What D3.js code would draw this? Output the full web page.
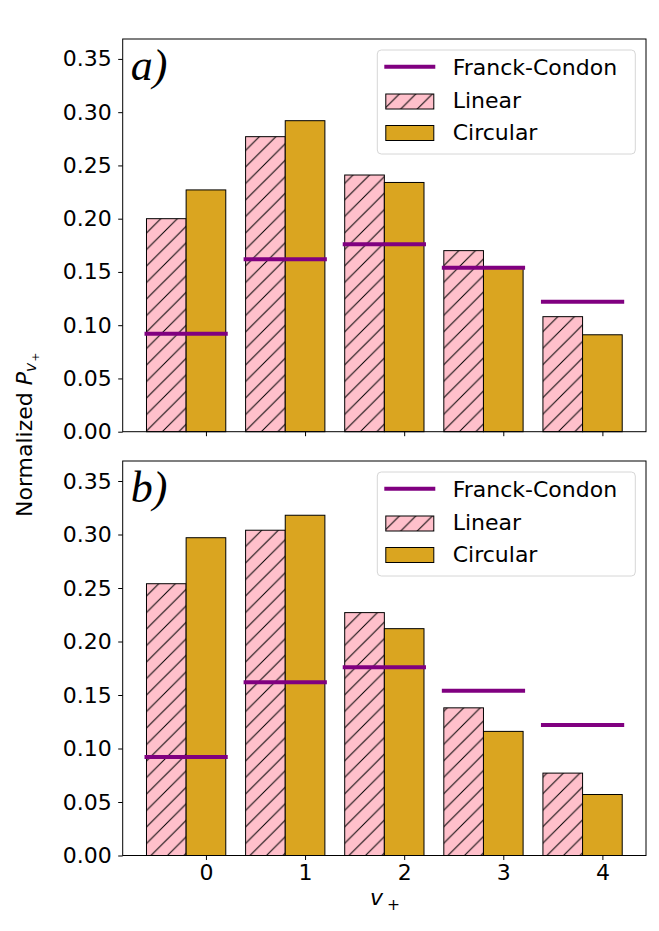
<!DOCTYPE html>
<meta charset="utf-8">
<script src="https://d3js.org/d3.v7.min.js"></script>
<style>
    body { margin: 0; background: #fff; }
    text { font-family: "DejaVu Sans", sans-serif; fill: #000; }
</style>
<div id="vis"></div>
<script>
    // data
    var levels = [0, 1, 2, 3, 4];
    var fcVals = [0.092, 0.162, 0.176, 0.154, 0.122];
    var linearA = [0.200, 0.277, 0.241, 0.170, 0.108];
    var circularA = [0.227, 0.292, 0.234, 0.154, 0.091];
    var linearB = [0.254, 0.304, 0.227, 0.138, 0.077];
    var circularB = [0.297, 0.318, 0.212, 0.116, 0.057];
    var yTicks = [0, 0.05, 0.10, 0.15, 0.20, 0.25, 0.30, 0.35];
    var legendNames = ["Franck-Condon", "Linear", "Circular"];
    var panelTags = ["a)", "b)"];

    var W = 659, H = 931;
    var lft = 122.7, rgt = 646;
    var panels = [
        { top: 39, btm: 431.7, lin: linearA, cir: circularA, tag: panelTags[0], labels: false },
        { top: 461, btm: 855.5, lin: linearB, cir: circularB, tag: panelTags[1], labels: true }
    ];

    var svg = d3.select("#vis").append("svg")
        .attr("width", W)
        .attr("height", H);

    // hatch for the linear bars
    var hs = 16.5;
    svg.append("defs").append("pattern")
        .attr("id", "hatch")
        .attr("patternUnits", "userSpaceOnUse")
        .attr("width", hs).attr("height", hs)
        .call(function (p) {
            p.append("rect").attr("width", hs).attr("height", hs).attr("fill", "pink");
            p.append("path")
                .attr("d", "M0," + hs + "L" + hs + ",0M-2,2L2,-2M" + (hs - 2) + "," + (hs + 2) + "L" + (hs + 2) + "," + (hs - 2))
                .attr("stroke", "#000").attr("stroke-width", 1);
        });

    var x = d3.scaleLinear().domain([-0.84, 4.44]).range([lft, rgt]);
    var bw = 0.4;

    panels.forEach(function (pn) {
        var y = d3.scaleLinear().domain([0, 0.3687]).range([pn.btm, pn.top]);
        var g = svg.append("g");

        // bars
        g.selectAll(".lin").data(levels).enter().append("rect")
            .attr("x", function (d) { return x(d - bw - bw / 2); })
            .attr("width", x(bw) - x(0))
            .attr("y", function (d, i) { return y(pn.lin[i]); })
            .attr("height", function (d, i) { return y(0) - y(pn.lin[i]); })
            .attr("fill", "url(#hatch)")
            .attr("stroke", "#000").attr("stroke-width", 1);
        g.selectAll(".cir").data(levels).enter().append("rect")
            .attr("x", function (d) { return x(d - bw / 2); })
            .attr("width", x(bw) - x(0))
            .attr("y", function (d, i) { return y(pn.cir[i]); })
            .attr("height", function (d, i) { return y(0) - y(pn.cir[i]); })
            .attr("fill", "goldenrod")
            .attr("stroke", "#000").attr("stroke-width", 1);

        // Franck-Condon levels
        g.selectAll(".fc").data(levels).enter().append("line")
            .attr("x1", function (d) { return x(d - 0.62); })
            .attr("x2", function (d) { return x(d + 0.22); })
            .attr("y1", function (d, i) { return y(fcVals[i]); })
            .attr("y2", function (d, i) { return y(fcVals[i]); })
            .attr("stroke", "purple").attr("stroke-width", 4);

        // axes
        var ya = g.append("g")
            .attr("transform", "translate(" + lft + ",0)")
            .call(d3.axisLeft(y).tickValues(yTicks).tickSize(4.5).tickPadding(6.5).tickFormat(d3.format(".2f")));
        var xa = g.append("g")
            .attr("transform", "translate(0," + pn.btm + ")")
            .call(d3.axisBottom(x).tickValues(levels).tickSize(4.5).tickPadding(4).tickFormat(pn.labels ? d3.format("d") : function () { return ""; }));
        [ya, xa].forEach(function (a) {
            a.select(".domain").remove();
            a.selectAll("line").attr("stroke", "#000").attr("stroke-width", 1);
            a.selectAll("text").attr("font-size", 22).attr("font-family", "DejaVu Sans").attr("fill", "#000");
        });

        g.append("rect")
            .attr("x", lft).attr("y", pn.top)
            .attr("width", rgt - lft).attr("height", pn.btm - pn.top)
            .attr("fill", "none").attr("stroke", "#000").attr("stroke-width", 1);

        // panel tag
        g.append("text")
            .attr("x", lft + 8).attr("y", pn.top + 41)
            .style("font-family", "'Liberation Serif', serif")
            .style("font-style", "italic")
            .style("font-size", "44px")
            .text(pn.tag);

        // legend
        var lg = g.append("g").attr("transform", "translate(377.3," + (pn.top + 11) + ")");
        lg.append("rect")
            .attr("width", 258).attr("height", 104).attr("rx", 4)
            .attr("fill", "#fff").attr("fill-opacity", 0.8)
            .attr("stroke", "#d6d6d6").attr("stroke-width", 1);
        lg.append("line")
            .attr("x1", 7).attr("x2", 58).attr("y1", 16.7).attr("y2", 16.7)
            .attr("stroke", "purple").attr("stroke-width", 4);
        lg.append("rect")
            .attr("x", 8.5).attr("y", 44).attr("width", 48).attr("height", 15)
            .attr("fill", "url(#hatch)").attr("stroke", "#000").attr("stroke-width", 1);
        lg.append("rect")
            .attr("x", 8.5).attr("y", 75.5).attr("width", 48).attr("height", 15)
            .attr("fill", "goldenrod").attr("stroke", "#000").attr("stroke-width", 1);
        lg.selectAll(".lt").data(legendNames).enter().append("text")
            .attr("x", 75.4)
            .attr("y", function (d, i) { return 25 + i * 32.5; })
            .attr("font-size", 22)
            .text(function (d) { return d; });
    });

    // x label
    var xl = svg.append("text")
        .attr("x", 370).attr("y", 905)
        .attr("font-size", 22);
    xl.append("tspan").style("font-style", "italic").text("v");
    xl.append("tspan").attr("font-size", 15.5).attr("dx", 4).attr("dy", 5).text("+");

    // y label
    var yl = svg.append("text")
        .attr("transform", "translate(32,517) rotate(-90)")
        .attr("font-size", 22);
    yl.append("tspan").text("Normalized ");
    yl.append("tspan").style("font-style", "italic").text("P");
    yl.append("tspan").style("font-style", "italic").attr("font-size", 15.5).attr("dy", 4).text("v");
    yl.append("tspan").attr("font-size", 11).attr("dy", 3).attr("dx", 1).text("+");
</script>
